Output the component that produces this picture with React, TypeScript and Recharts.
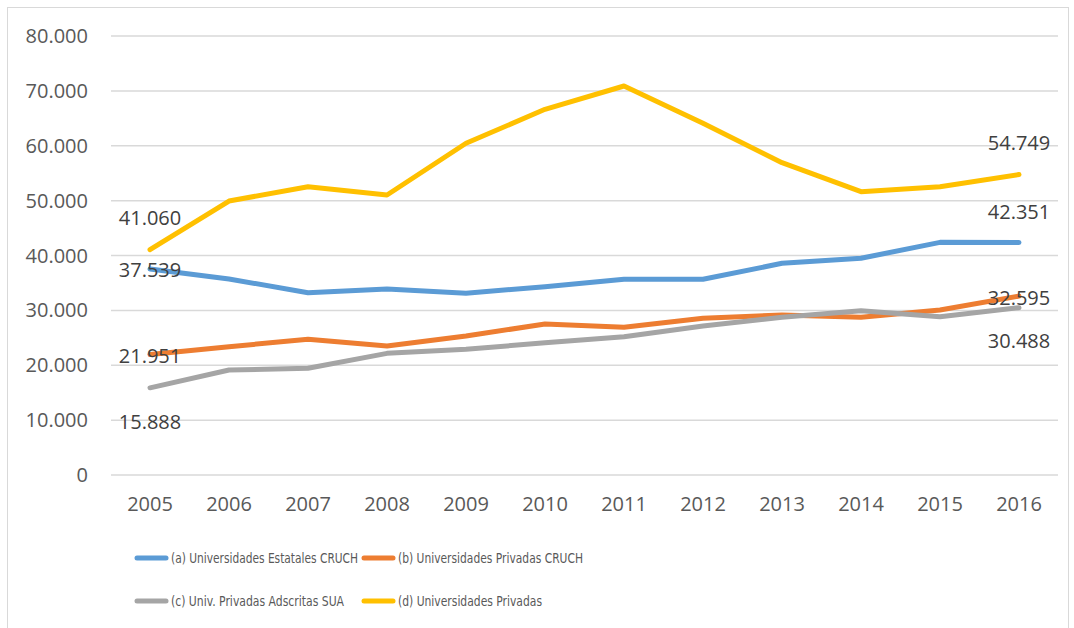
import React from 'react';
import { LineChart, Line, XAxis, YAxis, CartesianGrid, Legend, LabelList } from 'recharts';

const years = ['2005', '2006', '2007', '2008', '2009', '2010', '2011', '2012', '2013', '2014', '2015', '2016'];
const estatalesCRUCH = [37539, 35720, 33220, 33900, 33110, 34320, 35660, 35660, 38580, 39490, 42400, 42351];
const privadasCRUCH = [21951, 23390, 24720, 23510, 25330, 27520, 26910, 28550, 29160, 28740, 30070, 32595];
const privadasSUA = [15888, 19130, 19440, 22170, 22900, 24110, 25200, 27150, 28740, 29950, 28850, 30488];
const privadas = [41060, 49930, 52540, 51030, 60450, 66640, 70890, 64090, 56910, 51630, 52540, 54749];
const yTicks = [0, 10000, 20000, 30000, 40000, 50000, 60000, 70000, 80000];
const seriesNames = [
  '(a) Universidades Estatales CRUCH',
  '(b) Universidades Privadas CRUCH',
  '(c) Univ. Privadas Adscritas SUA',
  '(d) Universidades Privadas',
];

const data = years.map((year, i) => ({
  year,
  a: estatalesCRUCH[i],
  b: privadasCRUCH[i],
  c: privadasSUA[i],
  d: privadas[i],
}));

const FONT = '"Open Sans", sans-serif';
const LEGEND_FONT = '"Liberation Sans Narrow", "DejaVu Sans Condensed", sans-serif';
const fmt = (v: number) => String(Math.round(v)).replace(/\B(?=(\d{3})+(?!\d))/g, '.');

const series = [
  { key: 'a', color: '#5B9BD5', off: [1, -31] },
  { key: 'b', color: '#ED7D31', off: [1, 2] },
  { key: 'c', color: '#A5A5A5', off: [34, 33] },
  { key: 'd', color: '#FFC000', off: [-32, -32] },
];

const makeLabel = (off: number[]) => (props: any) => {
  const { x, y, index, value } = props;
  if (index !== 0 && index !== years.length - 1) return null;
  const dy = index === 0 ? off[0] : off[1];
  return (
    <text x={x} y={y + dy} dy="0.36em" textAnchor="middle" fill="#404040" fontSize={20} fontFamily={FONT}>
      {fmt(value)}
    </text>
  );
};

const legendItems = [
  { name: seriesNames[0], color: '#5B9BD5', x: 137, y: 558, w: 187 },
  { name: seriesNames[1], color: '#ED7D31', x: 364, y: 558, w: 185 },
  { name: seriesNames[2], color: '#A5A5A5', x: 137, y: 601, w: 173 },
  { name: seriesNames[3], color: '#FFC000', x: 364, y: 601, w: 144 },
];

const renderLegend = () => (
  <svg width={1074} height={98} style={{ display: 'block' }}>
    {legendItems.map((it) => (
      <g key={it.name}>
        <line x1={it.x} x2={it.x + 29} y1={it.y - 530} y2={it.y - 530} stroke={it.color} strokeWidth={5} strokeLinecap="round" />
        <text x={it.x + 34} y={it.y - 530} dy="0.36em" fill="#595959" fontSize={14.6} fontFamily={LEGEND_FONT}
          textLength={it.w} lengthAdjust="spacingAndGlyphs">
          {it.name}
        </text>
      </g>
    ))}
  </svg>
);

export default function App() {
  return (
    <div style={{ position: 'absolute', left: 0, top: 0, width: 1074, height: 628, background: '#fff', overflow: 'hidden' }}>
      <div style={{ position: 'absolute', left: 7, top: 7, width: 1060, height: 700, border: '1px solid #D9D9D9' }} />
      <div style={{ position: 'absolute', left: 0, top: 0 }}>
        <LineChart width={1074} height={628} data={data} margin={{ top: 36, right: 16, left: 0, bottom: 93 }}>
          <CartesianGrid vertical={false} stroke="#D9D9D9" strokeWidth={1.5} />
          <XAxis dataKey="year" axisLine={false} tickLine={false} tickSize={0} tickMargin={22} height={60} interval={0}
            padding={{ left: 39, right: 39 }}
            tick={{ fill: '#595959', fontSize: 20, fontFamily: FONT }} />
          <YAxis domain={[0, 80000]} ticks={yTicks} axisLine={false} tickLine={false} tickSize={0} tickMargin={23} width={111}
            tickFormatter={fmt} tick={{ fill: '#595959', fontSize: 20, fontFamily: FONT }} />
          <Legend layout="horizontal" verticalAlign="middle" align="center" content={renderLegend}
            wrapperStyle={{ top: 530, left: 0, width: 1074, height: 98 }} />
          {series.map((s, i) => (
            <Line key={s.key} type="linear" dataKey={s.key} name={seriesNames[i]} stroke={s.color} strokeWidth={5}
              strokeLinecap="round" strokeLinejoin="round" dot={false} activeDot={false} isAnimationActive={false}>
              <LabelList dataKey={s.key} content={makeLabel(s.off)} />
            </Line>
          ))}
        </LineChart>
      </div>
    </div>
  );
}
